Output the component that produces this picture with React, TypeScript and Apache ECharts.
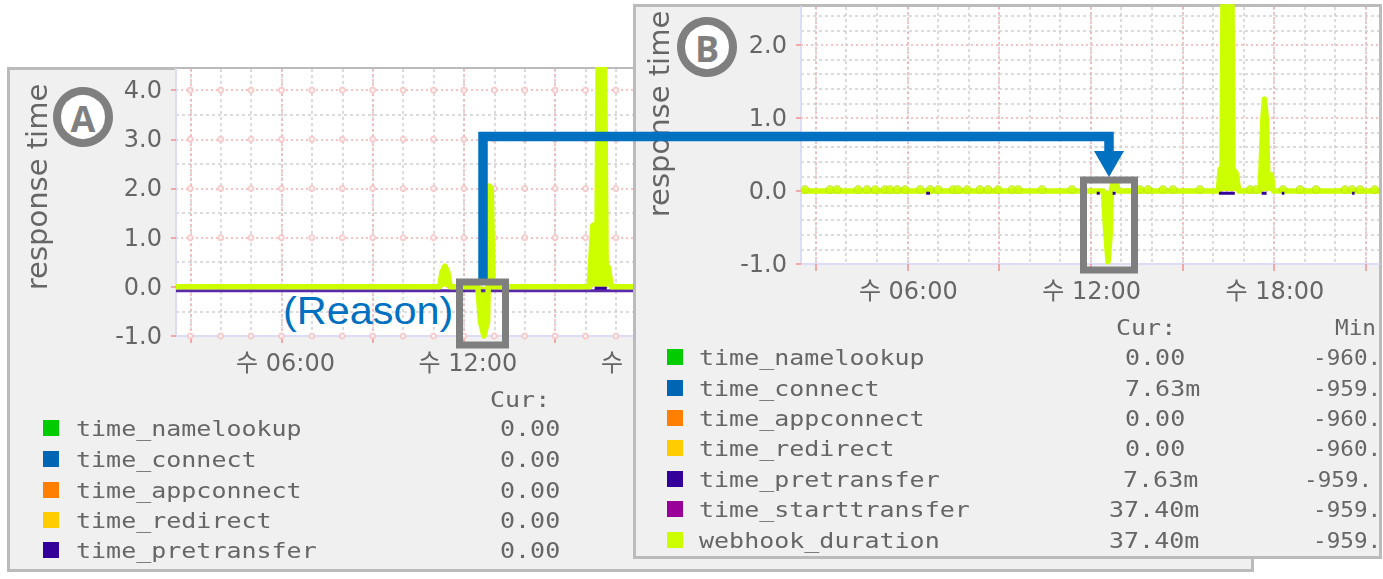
import React, { useEffect, useRef } from "react";
import * as echarts from "echarts";

const legendNames = ["time_namelookup", "time_connect", "time_appconnect", "time_redirect", "time_pretransfer", "time_starttransfer", "webhook_duration"];
const legendColors = ["#00CC00", "#0066B3", "#FF8000", "#FFCC00", "#330099", "#990099", "#CCFF00"];
const curA = ["0.00", "0.00", "0.00", "0.00", "0.00"];
const hiddenStatsA = ["-959.92", "2.16", "3.75m"];
const curB = ["0.00", "7.63m", "0.00", "0.00", "7.63m", "37.40m", "37.40m"];
const minB = ["-960.", "-959.", "-960.", "-960.", "-959.", "-959.", "-959."];

const timeLabels: Record<number, string> = { 6: "수 06:00", 12: "수 12:00", 18: "수 18:00", 24: "목 00:00", 30: "목 06:00", 36: "목 12:00" };
const labelHours = [6, 12, 18, 24, 30, 36];
const majorHoursA = [3, 6, 9, 12, 15, 18, 21, 24, 27, 30, 33, 36];
const minorHoursA = [3, 4, 5, 6, 7, 8, 9, 10, 11, 12, 13, 14, 15, 16, 17, 18, 19, 20, 21];
const majorYA = [-1, 0, 1, 2, 3, 4];
const minorYA = [-0.5, 0.5, 1.5, 2.5, 3.5];
const majorHoursB = [3, 6, 9, 12, 15, 18, 21];
const minorHoursB = [3, 4, 5, 6, 7, 8, 9, 10, 11, 12, 13, 14, 15, 16, 17, 18, 19, 20, 21];
const majorYB = [-1, 0, 1, 2];
const minorYB = [-0.8, -0.6, -0.4, -0.2, 0.2, 0.4, 0.6, 0.8, 1.2, 1.4, 1.6, 1.8, 2.2, 2.4];

const webhookA = [
  [2.53, 0], [11.2, 0], [11.28, 0.3], [11.375, 0.42], [11.47, 0.3], [11.55, 0],
  [12.46, 0], [12.54, -0.7], [12.66, -1.0], [12.78, -0.7], [12.8, 0], [12.84, 2.05], [12.9, 2.0], [12.96, 0],
  [16.12, 0], [16.24, 1.25], [16.38, 1.28], [16.42, 5], [16.62, 5], [16.68, 0.42], [16.75, 0.4], [16.85, 0],
  [37.89, 0],
];
const pretransferA = [[2.53, -0.08], [37.89, -0.08]];
const pretransferBumpA = [[16.3, -0.03], [16.7, -0.03]];

const webhookB = [
  [2.53, 0], [12.42, 0], [12.5, -0.6], [12.57, -0.97], [12.64, -0.6], [12.68, 0.02], [12.72, 0.1], [12.85, 0.1], [12.9, 0],
  [16.18, 0], [16.24, 0.3], [16.3, 0.3], [16.34, 3.2], [16.62, 3.2], [16.66, 0.3], [16.76, 0.25], [16.85, 0],
  [17.55, 0], [17.64, 1.0], [17.69, 1.26], [17.75, 1.0], [17.8, 0.24], [17.92, 0.22], [17.98, 0],
  [21.44, 0],
];
const bumpHoursB = [2.65, 3.47, 3.7, 4.39, 4.68, 4.95, 5.27, 5.44, 5.67, 5.93, 6.42, 6.75, 7.01, 7.5, 7.66, 7.96, 8.38, 8.64, 8.97, 9.43, 9.63, 10.41, 11.39, 13.62, 13.88, 14.37, 14.7, 15.58, 17.22, 17.42, 18.3, 18.86, 19.38, 20.33, 20.56, 20.82, 21.3];
const pretransferB = [
  [6.62, -0.03], [6.74, -0.03], null, [12.2, -0.03], [12.3, -0.03], null, [12.72, -0.03], [12.82, -0.03], null,
  [16.2, -0.03], [16.72, -0.03], null, [17.6, -0.03], [17.76, -0.03], null, [18.26, -0.03], [18.34, -0.03], null, [20.56, -0.03], [20.64, -0.03],
];

const GRAY = "#666666";
const SANS = '"DejaVu Sans", "Noto Sans CJK KR", sans-serif';
const MONO = '"DejaVu Sans Mono", monospace';
const MAJOR = "#F6B0B0";
const MINOR = "#D0D0D0";
const AXISC = "#DCDCF6";

function xAxisPair(min: number, max: number, minorH: number[], majorH: number[], shift: number) {
  return [
    {
      type: "value", min, max, position: "bottom",
      axisLine: { show: false }, axisLabel: { show: false },
      axisTick: { show: false, customValues: minorH },
      splitLine: { show: true, lineStyle: { color: MINOR, width: 1.5, type: [3, 3] } },
    },
    {
      type: "value", min, max, position: "bottom",
      axisLine: { show: true, onZero: false, lineStyle: { color: AXISC, width: 2 } },
      axisTick: { show: true, length: 7, lineStyle: { color: "#F09090", width: 1.5 }, customValues: majorH },
      axisLabel: {
        show: true, margin: 15, color: GRAY, fontSize: 24, fontFamily: SANS, padding: [0, 0, 0, shift],
        customValues: labelHours.filter((h) => h <= max),
        formatter: (v: number) => timeLabels[v] ?? "",
      },
      splitLine: { show: true, lineStyle: { color: MAJOR, width: 1.5, type: [2, 3] } },
    },
  ];
}
function yAxisPair(min: number, max: number, minorV: number[], majorV: number[]) {
  return [
    {
      type: "value", min, max, position: "left",
      axisLine: { show: false }, axisLabel: { show: false },
      axisTick: { show: false, customValues: minorV },
      splitLine: { show: true, lineStyle: { color: MINOR, width: 1.5, type: [3, 3] } },
    },
    {
      type: "value", min, max, position: "left",
      axisLine: { show: true, onZero: false, lineStyle: { color: AXISC, width: 2 } },
      axisTick: { show: true, length: 5, lineStyle: { color: "#F09090", width: 1.5 }, customValues: majorV },
      axisLabel: {
        show: true, margin: 14, color: GRAY, fontSize: 24, fontFamily: SANS,
        customValues: majorV,
        formatter: (v: number) => v.toFixed(1),
      },
      splitLine: { show: true, lineStyle: { color: MAJOR, width: 1.5, type: [2, 3] } },
    },
  ];
}

function monoText(text: string, x: number, y: number, scaleX = 1.19) {
  return { type: "text", x, y, scaleX, z: 5, style: { text, font: `21px ${MONO}`, fill: GRAY, textVerticalAlign: "middle", textAlign: "left" } };
}
function panelRect(w: number, h: number) {
  return { type: "rect", z: -10, shape: { x: 1.5, y: 1.5, width: w - 3, height: h - 3 }, style: { fill: "#F0F0F0", stroke: "#BBBBBB", lineWidth: 3 } };
}
function yTitle(x: number, y: number) {
  return { type: "text", x, y, rotation: Math.PI / 2, z: 5, style: { text: "response time", font: `29px ${SANS}`, fill: GRAY, textAlign: "center", textVerticalAlign: "middle" } };
}
function legendSquare(x: number, y: number, fill: string) {
  return { type: "rect", z: 5, shape: { x, y, width: 16, height: 16 }, style: { fill } };
}

const line = (data: any[], color: string, width: number, name: string, area = false) => ({
  type: "line", name, data, xAxisIndex: 1, yAxisIndex: 1, showSymbol: false, symbol: "none", connectNulls: false,
  lineStyle: { color, width, join: "round" }, itemStyle: { color }, smooth: false, z: 4,
  ...(area ? { areaStyle: { color, opacity: 1 } } : {}),
});

function optionA() {
  const ox = 7, oy = 67;
  const rowY = [429, 460, 491, 521, 551, 582];
  const circles: number[][] = [];
  majorYA.forEach((v) => minorHoursA.forEach((h) => circles.push([h, v])));
  const gfx: any[] = [panelRect(1247, 505), yTitle(37 - ox, 187 - oy)];
  gfx.push(monoText("Cur:", 490 - ox, 400 - oy));
  rowY.forEach((y, i) => {
    gfx.push(legendSquare(43 - ox, y - 9 - oy, legendColors[i]));
    gfx.push(monoText(legendNames[i], 76 - ox, y - oy));
    if (curA[i]) gfx.push(monoText(curA[i], 500 - ox, y - oy));
  });
  [701, 944, 1156].forEach((x, i) => gfx.push(monoText(hiddenStatsA[i], x - ox, rowY[4] - oy)));
  return {
    animation: false,
    grid: { left: 176 - ox, top: 69 - oy, width: 1251 - 176, height: 336 - 69, backgroundColor: "#FFFFFF", show: true, borderWidth: 0 },
    xAxis: xAxisPair(2.53, 37.89, minorHoursA, majorHoursA, 8),
    yAxis: yAxisPair(-1, 4.43, minorYA, majorYA),
    graphic: gfx,
    series: [
      { type: "scatter", data: circles, xAxisIndex: 1, yAxisIndex: 1, symbol: "emptyCircle", symbolSize: 5, itemStyle: { color: "#F6C0C0", borderColor: "#F6C0C0" }, z: 1, silent: true },
      line(pretransferA, "#5A2AA8", 3, "time_pretransfer"),
      line(webhookA, "#CCFF00", 5.5, "webhook_duration", true),
      line(pretransferBumpA, "#330099", 3, "time_pretransfer"),
    ],
  };
}

function optionB() {
  const ox = 633, oy = 4;
  const rowY = [358, 389, 419, 449, 480, 510, 541];
  const gfx: any[] = [panelRect(749, 555), yTitle(659 - ox, 114 - oy)];
  gfx.push(monoText("Cur:", 1116 - ox, 328 - oy));
  gfx.push(monoText("Min", 1335 - ox, 328 - oy, 1.08));
  rowY.forEach((y, i) => {
    gfx.push(legendSquare(667 - ox, y - 9 - oy, legendColors[i]));
    gfx.push(monoText(legendNames[i], 699 - ox, y - oy));
    const cur = curB[i];
    const cx = cur.length === 6 ? 1109 : cur.length === 5 ? (i === 4 ? 1123 : 1125) : 1125;
    gfx.push(monoText(cur, cx - ox, y - oy));
    gfx.push(monoText(minB[i], (i === 4 ? 1304 : 1313) - ox, y - oy, 1.08));
  });
  return {
    animation: false,
    grid: { left: 801 - ox, top: 7 - oy, width: 1379 - 801, height: 264 - 7, backgroundColor: "#FFFFFF", show: true, borderWidth: 0 },
    xAxis: xAxisPair(2.52, 21.44, minorHoursB, majorHoursB, 2),
    yAxis: yAxisPair(-1, 2.52, minorYB, majorYB),
    graphic: gfx,
    series: [
      line(webhookB, "#CCFF00", 5.5, "webhook_duration", true),
      {
        type: "scatter", name: "webhook_duration", data: bumpHoursB.map((h) => [h, 0.02]), xAxisIndex: 1, yAxisIndex: 1,
        symbol: "circle", symbolSize: 8, itemStyle: { color: "#CCFF00", borderColor: "#B8D820", borderWidth: 0.8 }, z: 5, silent: true,
      },
      { ...line(pretransferB, "#330099", 3, "time_pretransfer"), z: 6 },
    ],
  };
}

function optionOverlay() {
  const BLUE = "#0070C0";
  const BOX = "#7F7F7F";
  return {
    animation: false,
    graphic: [
      { type: "polyline", z: 10, shape: { points: [[483, 284], [483, 136.5], [1109, 136.5], [1109, 155]] }, style: { stroke: BLUE, lineWidth: 9.5, fill: "none", lineJoin: "miter", lineCap: "butt" } },
      { type: "polygon", z: 10, shape: { points: [[1094, 151], [1124, 151], [1109, 177]] }, style: { fill: BLUE } },
      { type: "rect", z: 11, shape: { x: 459.5, y: 282, width: 46, height: 63 }, style: { fill: "none", stroke: BOX, lineWidth: 7 } },
      { type: "rect", z: 11, shape: { x: 1083.5, y: 180, width: 51, height: 90 }, style: { fill: "none", stroke: BOX, lineWidth: 7 } },
      { type: "text", z: 11, x: 283, y: 311, scaleX: 1.09, style: { text: "(Reason)", font: '38px "Liberation Sans", Arial, sans-serif', fill: BLUE, textVerticalAlign: "middle" } },
      { type: "circle", z: 11, shape: { cx: 83, cy: 117, r: 26 }, style: { fill: "#FFFFFF", stroke: BOX, lineWidth: 8 } },
      { type: "text", z: 12, x: 83, y: 118, style: { text: "A", font: 'bold 36px "Open Sans", sans-serif', fill: BOX, textAlign: "center", textVerticalAlign: "middle" } },
      { type: "circle", z: 11, shape: { cx: 707, cy: 47, r: 26 }, style: { fill: "#FFFFFF", stroke: BOX, lineWidth: 8 } },
      { type: "text", z: 12, x: 707, y: 48, style: { text: "B", font: 'bold 36px "Open Sans", sans-serif', fill: BOX, textAlign: "center", textVerticalAlign: "middle" } },
    ],
  };
}

function Chart({ left, top, width, height, option, blur }: any) {
  const ref = useRef<HTMLDivElement>(null);
  useEffect(() => {
    const chart = echarts.init(ref.current!, undefined, { renderer: "svg" });
    chart.setOption(option());
    return () => chart.dispose();
  }, []);
  return (
    <div
      ref={ref}
      style={{ position: "absolute", left, top, width, height, overflow: "hidden", filter: blur ? "blur(0.6px)" : undefined, pointerEvents: blur ? undefined : "none" }}
    />
  );
}

export default function App() {
  return (
    <div style={{ position: "absolute", left: 0, top: 0, width: 1383, height: 579, overflow: "hidden", background: "#FFFFFF" }}>
      <Chart left={7} top={67} width={1247} height={505} option={optionA} blur />
      <Chart left={633} top={4} width={749} height={555} option={optionB} blur />
      <Chart left={0} top={0} width={1383} height={579} option={optionOverlay} />
    </div>
  );
}
